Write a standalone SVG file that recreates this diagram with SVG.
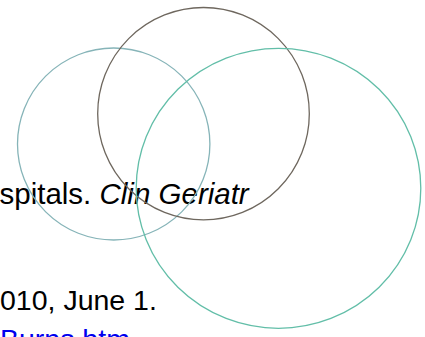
<svg xmlns="http://www.w3.org/2000/svg" width="425" height="337" viewBox="0 0 425 337">
<style>
.t{font-family:"Liberation Sans",Arial,sans-serif;font-size:28.5px;fill:#000}
.c{fill:none;stroke-width:1.3}
</style>
<rect width="425" height="337" fill="#fff"/>
<g id="text">
<text class="t" x="-0.5" y="204" style="font-size:29.5px"><tspan>spitals. </tspan><tspan font-style="italic">Clin Geriatr</tspan></text>
<text class="t" x="0" y="309.5">010, June 1.</text>
<text class="t" x="0" y="348.5" style="fill:#0000ee">Burns.htm</text>
</g>
<g id="circle-left"><ellipse class="c" cx="113.7" cy="144" rx="96.2" ry="96" stroke="#86b4b8"/></g>
<g id="circle-top"><ellipse class="c" cx="203.5" cy="113.7" rx="105.8" ry="106.2" stroke="#6e675e"/></g>
<g id="circle-right"><ellipse class="c" cx="278.5" cy="188.3" rx="142.3" ry="140" stroke="#62bea8"/></g>
</svg>
